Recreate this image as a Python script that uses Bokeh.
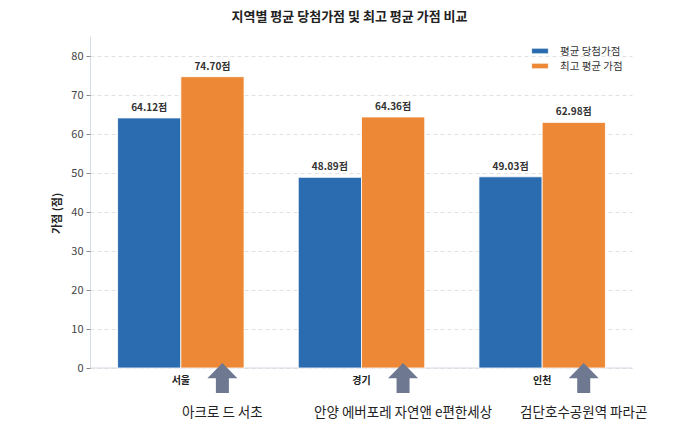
import numpy as np
from bokeh.plotting import figure
from bokeh.models import Range1d, FixedTicker
from bokeh.core.properties import value
from bokeh.embed import file_html
from bokeh.resources import INLINE

# ---- data ----
regions = ["서울", "경기", "인천"]
avg_scores = [64.12, 48.89, 49.03]
max_scores = [74.70, 64.36, 62.98]
complexes = ["아크로 드 서초", "안양 에버포레 자연앤 e편한세상", "검단호수공원역 파라곤"]
series_names = ["평균 당첨가점", "최고 평균 가점"]
y_ticks = [0, 10, 20, 30, 40, 50, 60, 70, 80]
title_text = "지역별 평균 당첨가점 및 최고 평균 가점 비교"
y_label = "가점 (점)"

FONT = "Noto Sans CJK KR"
BLUE = "#2b6cb0"
ORANGE = "#ed8936"
ARROW = "#6e7891"
SPINE = "#d3dbe6"

idx = np.arange(len(regions))
bw = 0.35
PX = 180.67   # px per x unit
PY = 3.9      # px per y unit

p = figure(width=684, height=426, x_range=Range1d(-0.5, -0.5 + 594 / PX),
           y_range=Range1d(-58.5 / PY, 85 + 36 / PY),
           output_backend="svg", toolbar_location=None, x_axis_location=None,
           min_border_left=90, min_border_right=0, min_border_top=0, min_border_bottom=0)
p.outline_line_color = None
p.xgrid.visible = False
p.ygrid.ticker = FixedTicker(ticks=y_ticks)
p.ygrid.grid_line_color = "#d9d9d9"
p.ygrid.grid_line_dash = "4 3"
p.ygrid.grid_line_width = 0.8
p.ygrid.cross_bounds = (-0.5, 2.5)

ax = p.yaxis[0]
ax.ticker = FixedTicker(ticks=y_ticks)
ax.bounds = (0, 85)
ax.axis_line_color = SPINE
ax.major_tick_line_color = "#888888"
ax.major_tick_out = 4
ax.major_tick_in = 0
ax.minor_tick_line_color = None
ax.major_label_text_font = FONT
ax.major_label_text_font_size = "11px"
ax.major_label_text_color = "#444444"
ax.major_label_standoff = 3
ax.axis_label = y_label
ax.axis_label_text_font = FONT
ax.axis_label_text_font_size = "11px"
ax.axis_label_text_font_style = "bold"
ax.axis_label_text_color = "#222222"
ax.axis_label_standoff = 4

# bottom spine
p.segment(x0=[-0.5], y0=[0], x1=[2.5], y1=[0], line_color=SPINE, line_width=1)

lbl_a = [f"{v:.2f}점" for v in avg_scores]
lbl_m = [f"{v:.2f}점" for v in max_scores]
p.vbar(x=idx - bw / 2, top=avg_scores, width=bw, fill_color=BLUE,
       line_color="white", line_width=0.8, legend_label=series_names[0])
p.vbar(x=idx + bw / 2, top=max_scores, width=bw, fill_color=ORANGE,
       line_color="white", line_width=0.8, legend_label=series_names[1])

for xs_, ys_, ts_ in ((idx - bw / 2, avg_scores, lbl_a), (idx + bw / 2, max_scores, lbl_m)):
    p.text(x=xs_, y=ys_, text=ts_, text_align="center", text_baseline="bottom",
           y_offset=-4, text_font=value(FONT), text_font_size="10px",
           text_font_style="bold", text_color="#333333")

# category labels
p.text(x=idx, y=[-3.0] * len(idx), text=regions, text_align="center", text_baseline="middle",
       text_font=value(FONT), text_font_size="10px", text_font_style="bold", text_color="#222222")

# arrows pointing to the best complex
arrow_x = idx + 0.23
tip, neck, base = 1.3, -2.6, -6.4
hw, sw = 15 / PX, 6.5 / PX
xs = [[a - sw, a - sw, a - hw, a, a + hw, a + sw, a + sw] for a in arrow_x]
ys = [[base, neck, neck, tip, neck, neck, base] for _ in arrow_x]
p.patches(xs=xs, ys=ys, fill_color=ARROW, line_color=None)

p.text(x=arrow_x, y=[-10.9] * len(idx), text=complexes, text_align="center", text_baseline="middle",
       text_font=value(FONT), text_font_size="13.5px", text_color="#222222")

# title
p.text(x=[-0.5 + 259 / PX], y=[85 + 21 / PY], text=[title_text], text_align="center",
       text_baseline="middle", text_font=value(FONT), text_font_size="13px",
       text_font_style="bold", text_color="#222222")

# legend
lg = p.legend[0]
lg.location = (439, 426 - 34 - 39)
lg.margin = 0
lg.padding = 4
lg.spacing = 0
lg.label_height = 14
lg.glyph_height = 7
lg.glyph_width = 21
lg.label_standoff = 10
lg.label_text_font = FONT
lg.label_text_font_size = "10.5px"
lg.label_text_color = "#333333"
lg.border_line_color = None
lg.background_fill_alpha = 0

open("out.html", "w").write(file_html(p, INLINE))
